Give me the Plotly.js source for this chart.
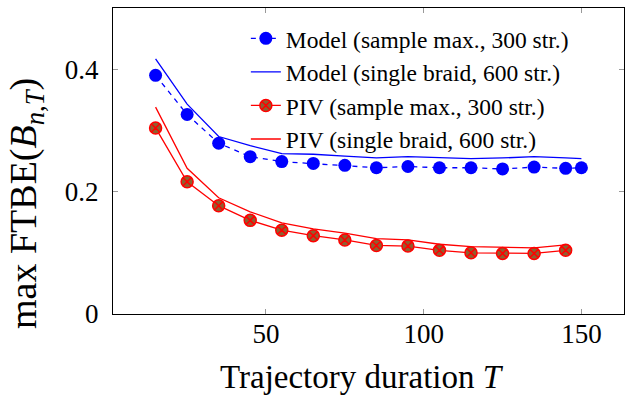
<!DOCTYPE html>
<html>
<head>
<meta charset="utf-8">
<script src="https://cdn.plot.ly/plotly-3.0.1.min.js"></script>
<style>html,body{margin:0;padding:0;background:#fff;}#plot{width:627px;height:395px;}</style>
</head>
<body>
<div id="plot"></div>
<script>
// Trajectory durations
const T_model = [15, 25, 35, 45, 55, 65, 75, 85, 95, 105, 115, 125, 135, 145, 150];
const T_piv = [15, 25, 35, 45, 55, 65, 75, 85, 95, 105, 115, 125, 135, 145];

// max FTBE values
const modelSampleMax = [0.390, 0.326, 0.279, 0.257, 0.249, 0.246, 0.243, 0.239, 0.241, 0.239, 0.239, 0.237, 0.240, 0.238, 0.239];
const modelSingle = [0.417, 0.343, 0.290, 0.275, 0.262, 0.261, 0.258, 0.255, 0.257, 0.255, 0.254, 0.255, 0.257, 0.255, 0.254];
const pivSampleMax = [0.304, 0.216, 0.177, 0.153, 0.137, 0.128, 0.121, 0.112, 0.111, 0.104, 0.100, 0.099, 0.099, 0.104];
const pivSingle = [0.338, 0.238, 0.190, 0.167, 0.149, 0.139, 0.132, 0.123, 0.121, 0.114, 0.110, 0.109, 0.108, 0.113];

const names = [
  'Model (sample max., 300 str.)',
  'Model (single braid, 600 str.)',
  'PIV (sample max., 300 str.)',
  'PIV (single braid, 600 str.)'
];
const xTicks = [50, 100, 150];
const yTicks = [0, 0.2, 0.4];

const BLUE = '#0000ff';
const RED = '#ff0000';
const BROWN = '#8f5f30';
const FONT = 'Liberation Serif, Times New Roman, serif';

const traces = [
  {x: T_model, y: modelSampleMax, name: names[0], mode: 'lines+markers',
   line: {color: BLUE, width: 1.3, dash: '5px,5px'},
   marker: {color: BLUE, size: 13, symbol: 'circle'}},
  {x: T_model, y: modelSingle, name: names[1], mode: 'lines',
   line: {color: BLUE, width: 1.3}},
  {x: T_piv, y: pivSampleMax, name: names[2], mode: 'lines+markers',
   line: {color: RED, width: 1.3},
   marker: {color: BROWN, size: 12, symbol: 'circle-x', line: {color: RED, width: 1.5}}},
  {x: T_piv, y: pivSingle, name: names[3], mode: 'lines',
   line: {color: RED, width: 1.3}}
];

const axisCommon = {
  showgrid: false, zeroline: false,
  showline: true, linecolor: '#000', linewidth: 1, mirror: 'ticks',
  ticks: 'inside', ticklen: 5, tickcolor: '#999', tickwidth: 1,
  tickfont: {family: FONT, size: 27, color: '#000'}
};

const layout = {
  width: 627, height: 395,
  margin: {l: 113, r: 3, t: 8, b: 81},
  paper_bgcolor: '#fff', plot_bgcolor: '#fff',
  font: {family: FONT, color: '#000'},
  xaxis: Object.assign({}, axisCommon, {range: [1.5, 163.5], tickvals: xTicks, ticklabelstandoff: -4}),
  yaxis: Object.assign({}, axisCommon, {range: [0, 0.5], tickvals: yTicks, ticklabelstandoff: 8}),
  showlegend: true,
  legend: {x: 0.26, y: 0.972, xanchor: 'left', yanchor: 'top', bgcolor: 'rgba(0,0,0,0)',
           font: {family: FONT, size: 23.5, color: '#000'}, tracegroupgap: 0},
  annotations: [
    {text: 'Trajectory duration <i>T</i>', xref: 'paper', yref: 'paper', x: 0.487, y: -0.205,
     xanchor: 'center', yanchor: 'middle', showarrow: false, font: {family: FONT, size: 33, color: '#000'}},
    {text: 'max FTBE(<i>B</i><sub><i>n</i>,<i>T</i></sub>)', xref: 'paper', yref: 'paper', x: -0.17, y: 0.36,
     xanchor: 'center', yanchor: 'middle', textangle: -90, showarrow: false, font: {family: FONT, size: 38, color: '#000'}}
  ]
};

Plotly.newPlot('plot', traces, layout, {displayModeBar: false, staticPlot: true});
</script>
</body>
</html>
